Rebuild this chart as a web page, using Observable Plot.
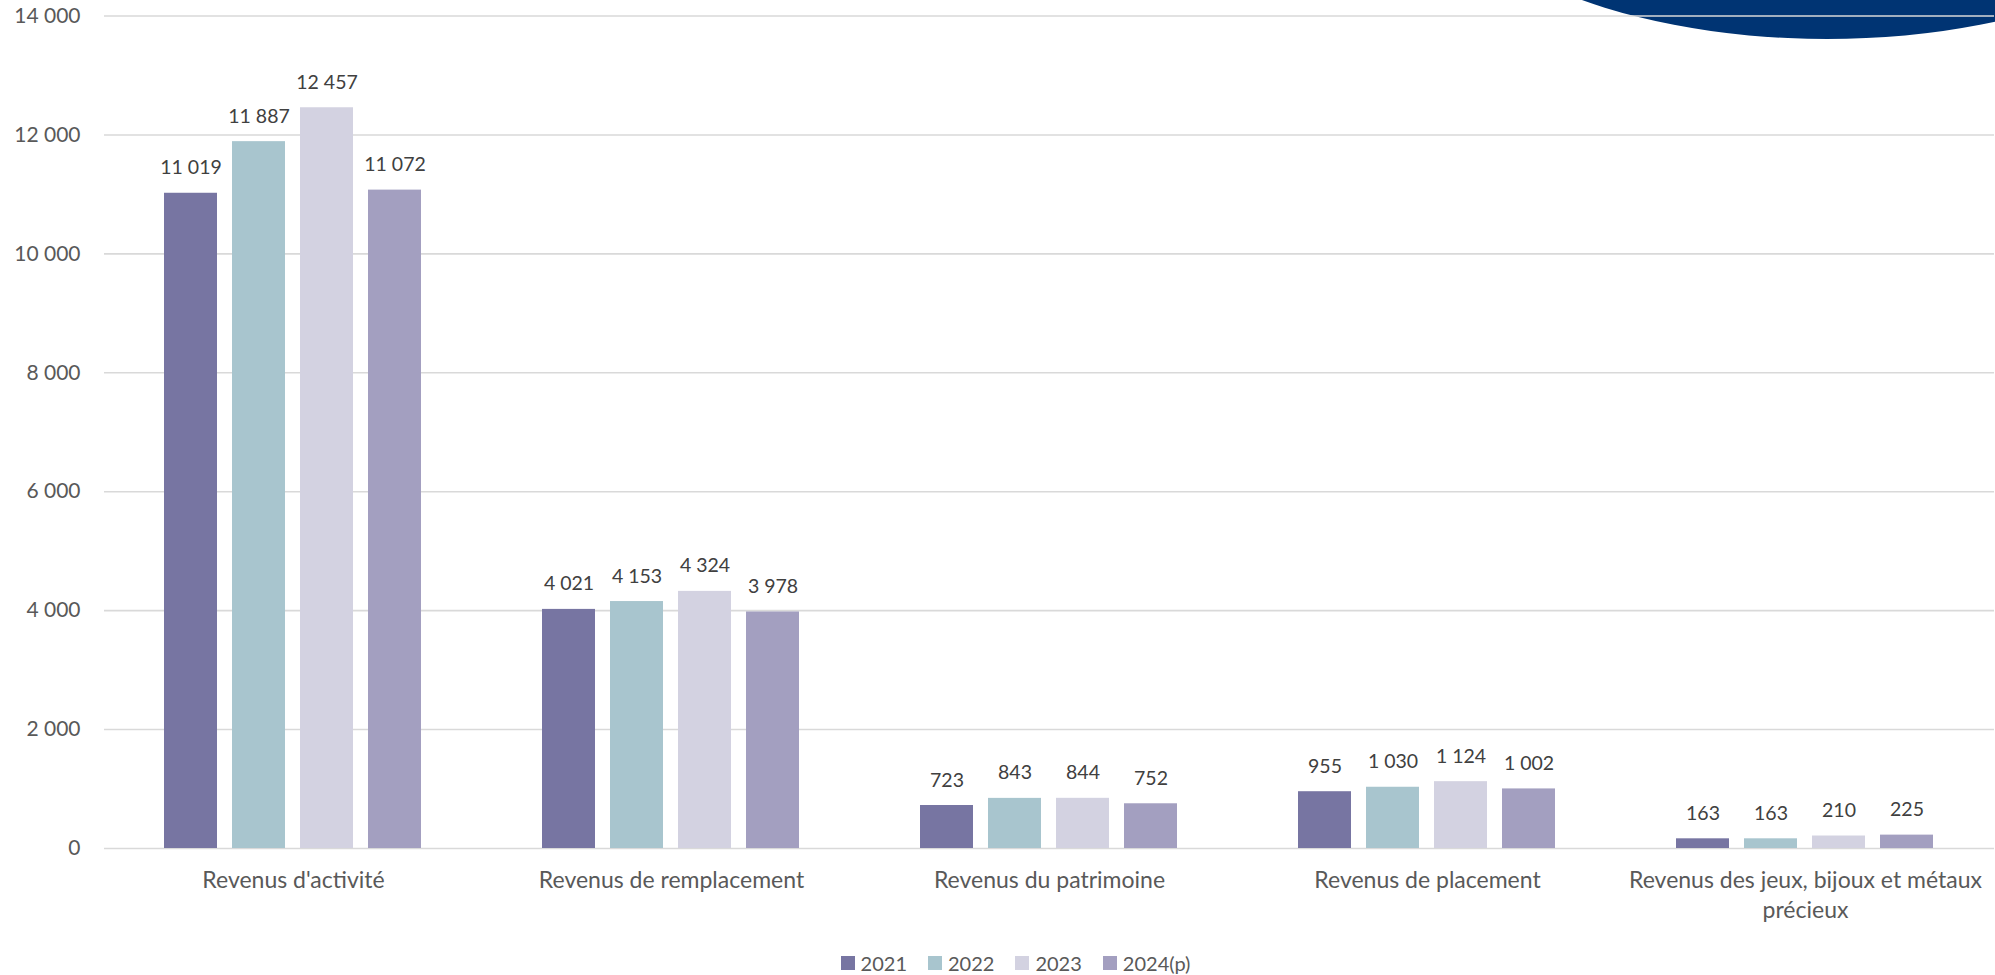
<!DOCTYPE html>
<html>
<head>
<meta charset="utf-8">
<script src="https://cdn.jsdelivr.net/npm/d3@7"></script>
<script src="https://cdn.jsdelivr.net/npm/@observablehq/plot@0.6"></script>
<style>
  html, body { margin: 0; padding: 0; background: #fff; overflow: hidden; }
  #wrap { position: relative; width: 1995px; height: 975px; overflow: hidden; font-family: Lato, sans-serif; }
  #deco { position: absolute; left: 1427px; top: -333px; width: 800px; height: 372px; border-radius: 50%; background: #003473; z-index: 0; }
  #chart { position: relative; z-index: 1; }
  #chart svg { background: transparent; display: block; }
  #legend { position: relative; z-index: 1; display: flex; justify-content: center; align-items: center; margin-top: 10px; padding-left: 36px; height: 26px; font-size: 20px; color: #595959; }
  .item { display: flex; align-items: center; margin: 0 10.5px; }
  .sw { width: 14px; height: 14px; margin-right: 6px; }
</style>
</head>
<body>
<div id="wrap">
  <div id="deco"></div>
  <div id="chart"></div>
  <div id="legend"></div>
</div>
<script>
const categories = ["Revenus d'activité", "Revenus de remplacement", "Revenus du patrimoine", "Revenus de placement", "Revenus des jeux, bijoux et métaux précieux"];
const categoryTickLabels = ["Revenus d'activité", "Revenus de remplacement", "Revenus du patrimoine", "Revenus de placement", "Revenus des jeux, bijoux et métaux\nprécieux"];
const years = ["2021", "2022", "2023", "2024(p)"];
const values2021 = [11019, 4021, 723, 955, 163];
const values2022 = [11887, 4153, 843, 1030, 163];
const values2023 = [12457, 4324, 844, 1124, 210];
const values2024 = [11072, 3978, 752, 1002, 225];
const yTicks = [0, 2000, 4000, 6000, 8000, 10000, 12000, 14000];
const colors = ["#7775A2", "#A8C5CE", "#D3D2E1", "#A39FC0"];

const series = [values2021, values2022, values2023, values2024];
const rows = [];
categories.forEach((c, i) => {
  years.forEach((y, j) => rows.push({category: c, year: y, value: series[j][i]}));
});

const fmt = v => d3.format(",")(v).replace(/,/g, "\u00a0");

const chart = Plot.plot({
  width: 1995,
  height: 940,
  marginLeft: 103,
  marginRight: 0,
  marginTop: 15.5,
  marginBottom: 92,
  style: {fontFamily: "Lato, sans-serif", color: "#595959", background: "transparent", overflow: "visible"},
  fx: {domain: categories, paddingInner: 0, paddingOuter: 0, label: null},
  x: {domain: years, paddingInner: 0.217, paddingOuter: 0.85, axis: null},
  y: {domain: [0, 14000], label: null},
  color: {domain: years, range: colors},
  marks: [
    Plot.gridY(yTicks, {stroke: "#D9D9D9", strokeOpacity: 1, strokeWidth: 1.6}),
    Plot.axisY(yTicks, {tickSize: 0, tickPadding: 24, fontSize: 21, tickFormat: fmt, label: null, fill: "#595959"}),
    Plot.axisFx({anchor: "bottom", tickSize: 0, tickPadding: 18, fontSize: 23, label: null, fill: "#595959",
      tickFormat: d => categoryTickLabels[categories.indexOf(d)], lineHeight: 1.3}),
    Plot.barY(rows, {fx: "category", x: "year", y: "value", fill: "year"}),
    Plot.text(rows, {fx: "category", x: "year", y: "value", text: d => fmt(d.value), dy: -19, lineAnchor: "bottom", fontSize: 19.5, fill: "#404040"})
  ]
});
document.getElementById("chart").appendChild(chart);

const legend = document.getElementById("legend");
years.forEach((y, j) => {
  const it = document.createElement("div");
  it.className = "item";
  const sw = document.createElement("div");
  sw.className = "sw";
  sw.style.background = colors[j];
  const t = document.createElement("span");
  t.textContent = y;
  it.appendChild(sw);
  it.appendChild(t);
  legend.appendChild(it);
});
</script>
</body>
</html>
